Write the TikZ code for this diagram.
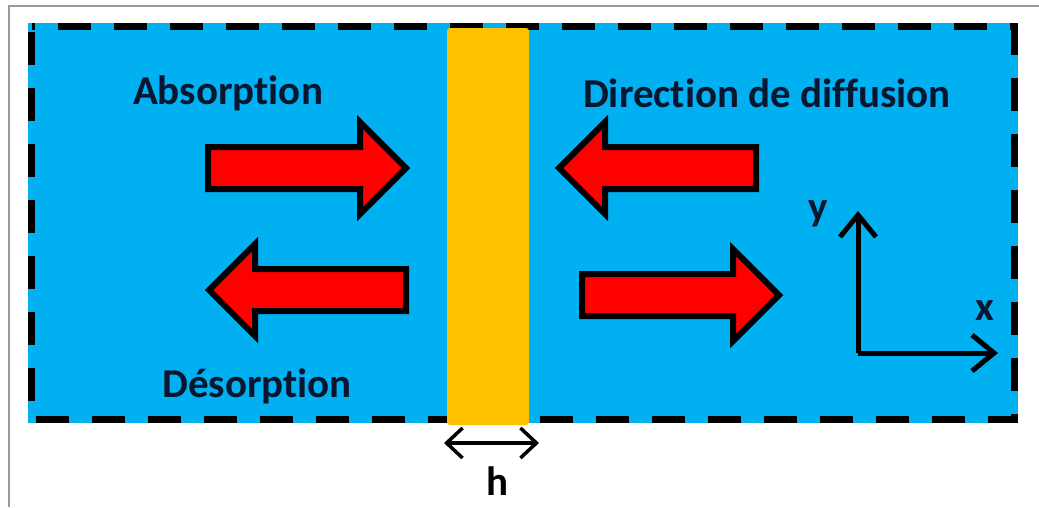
\documentclass[tikz,border=0pt]{standalone}
\usepackage{fontspec}
\setmainfont{Carlito}[RawFeature=-liga]
\usetikzlibrary{arrows.meta,calc}
\definecolor{cBleu}{HTML}{00B0F0}
\definecolor{cOr}{HTML}{FFC000}
\definecolor{cRouge}{HTML}{FF0000}
\definecolor{cTxt}{HTML}{081630}
\tikzset{
  lbl/.style={font=\fontsize{41}{46}\selectfont\bfseries,text=cTxt,inner sep=0pt},
  fleche/.style={draw=black,fill=cRouge,line width=6pt,line join=miter},
  axe/.style={-{Straight Barb[length=22pt,width=36pt]},line width=5pt,black},
  barbe/.tip={Straight Barb[length=16pt,width=30pt]},
}
% block arrow: tail x, tip x, centre y
\newcommand{\blocarrow}[3]{%
  \path[fleche] let \n1={#2>#1 ? 1 : -1} in
    (#1,#3-21) -- ({#2-\n1*46},#3-21) -- ({#2-\n1*46},#3-46) -- (#2,#3)
    -- ({#2-\n1*46},#3+46) -- ({#2-\n1*46},#3+21) -- (#1,#3+21) -- cycle;}
\begin{document}
\begin{tikzpicture}[x=1pt,y=-1pt]
  \useasboundingbox (0,0) rectangle (1039,507);
  \fill[white] (0,0) rectangle (1039,507);
  \draw[gray!80,line width=1.5pt] (9,507) -- (9,6) -- (1039,6);
  % milieu
  \fill[cBleu] (28,23) rectangle (1018,423);
  \draw[line width=7pt,dash pattern=on 33pt off 23pt,dash phase=-5pt] (31.5,26.5) rectangle (1014.5,419.5);
  \fill[cOr,rounded corners=3pt] (447,28) rectangle (529,425);
  % fleches
  \blocarrow{208}{406}{168}
  \blocarrow{756}{559}{168}
  \blocarrow{406}{209}{290}
  \blocarrow{582}{779}{295}
  % textes
  \node[lbl] (abs) at (228,93) {Absorption};
  \node[lbl] (dir) at (767,93) {Direction de diffusion};
  \node[lbl] (des) at (257,386) {Désorption};
  % epaisseur
  \coordinate (hg) at (444,443);
  \coordinate (hd) at (539,443);
  \draw[barbe-barbe,line width=3.5pt] (hg) -- (hd);
  \node[lbl,text=black] (h) at (497,481) {h};
  % repere
  \coordinate (o) at (858,353);
  \coordinate (ox) at (998,353);
  \coordinate (oy) at (858,211);
  \draw[axe] (o) -- (ox);
  \draw[axe] (o) -- (oy);
  \node[lbl] (ly) at (818,214) {y};
  \node[lbl] (lx) at (985,311) {x};
\end{tikzpicture}
\end{document}
